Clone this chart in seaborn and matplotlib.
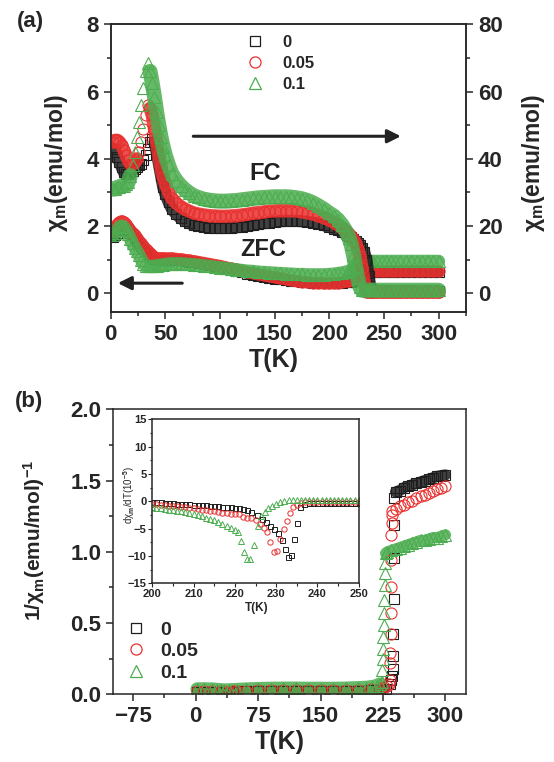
import matplotlib
matplotlib.use("Agg")
import matplotlib.pyplot as plt
from matplotlib.lines import Line2D
from matplotlib.ticker import MultipleLocator, FormatStrFormatter
import seaborn as sns

sns.set_style("ticks")
plt.rcParams["font.family"] = ["Liberation Sans", "DejaVu Sans"]
plt.rcParams["font.weight"] = "bold"
plt.rcParams["mathtext.fontset"] = "custom"
plt.rcParams["mathtext.rm"] = "Liberation Sans"
plt.rcParams["mathtext.bf"] = "Liberation Sans:bold"
plt.rcParams["mathtext.it"] = "Liberation Sans:italic"
plt.rcParams["axes.linewidth"] = 1.1

BLACK = "#1e1e1e"
RED = "#e8302e"
GREEN = "#4cad50"
labels = ["0", "0.05", "0.1"]

# ---- panel (a): chi vs T, ZFC on left axis, FC on right axis
T_a = [2, 4, 6, 8, 10, 12, 14, 16, 18, 20, 22, 24, 26, 28, 30, 32, 34, 36, 38, 40, 42, 44, 46, 48, 50,
       53, 56, 60, 64, 68, 72, 76, 80, 85, 90, 95, 100, 105, 110, 115, 120, 125, 130, 135, 140, 145, 150,
       155, 160, 165, 170, 175, 180, 185, 190, 195, 200, 204, 208, 212, 216, 218, 220, 222, 224, 226, 228,
       230, 232, 234, 236, 238, 240, 244, 248, 252, 256, 260, 265, 270, 275, 280, 285, 290, 295, 300]

fc_0 = [43, 42, 40.5, 39, 37.5, 36, 35.5, 35.5, 36, 36.5, 37, 37.5, 38, 38.5, 39.5, 41, 43, 45, 46, 45, 42, 38.5, 35, 31.5, 29.5,
        27, 25, 23.5, 22.3, 21.5, 20.8, 20.3, 20, 19.7, 19.5, 19.4, 19.4, 19.4, 19.5, 19.6, 19.8, 20, 20.2, 20.5, 20.8, 21, 21.2,
        21.4, 21.5, 21.5, 21.5, 21.4, 21.2, 21, 20.6, 20.2, 19.7, 19.2, 18.7, 18.1, 17.4, 17, 16.6, 16.1, 15.6, 15, 14.3,
        13.4, 12.2, 10, 5, 1.2, 0.7, 0.7, 0.7, 0.7, 0.7, 0.7, 0.7, 0.7, 0.7, 0.7, 0.7, 0.7, 0.7, 0.7]
fc_05 = [45, 45.5, 45.5, 45, 44, 42.5, 41, 39.5, 38.5, 38.5, 39, 40, 42, 45, 49, 53, 56, 55, 53, 49, 45, 41, 37.5, 34.5, 32.5,
         30, 28.2, 26.8, 25.8, 25, 24.4, 23.9, 23.6, 23.3, 23.1, 23, 22.9, 22.9, 23, 23.1, 23.3, 23.5, 23.8, 24, 24.2, 24.4, 24.5,
         24.6, 24.6, 24.6, 24.5, 24.3, 24, 23.6, 23.1, 22.5, 21.8, 21.1, 20.3, 19.4, 18.3, 17.6, 16.9, 16, 14.8, 13.2, 11,
         7.5, 3, 0.5, 0.3, 0.3, 0.3, 0.3, 0.3, 0.3, 0.3, 0.3, 0.3, 0.3, 0.3, 0.3, 0.3, 0.3, 0.3, 0.3]
fc_1 = [31, 31, 31.5, 31.5, 32, 32, 32.5, 33, 35, 38, 42, 46.5, 51, 56, 61, 66, 68.5, 66, 62.5, 58.5, 54, 50, 46.5, 43.5, 41,
        38, 35.5, 33.5, 32, 30.8, 29.8, 29, 28.5, 28, 27.7, 27.5, 27.4, 27.4, 27.5, 27.6, 27.8, 28, 28.2, 28.4, 28.5, 28.6, 28.7,
        28.7, 28.7, 28.6, 28.4, 28.1, 27.6, 26.9, 26, 25, 23.8, 23, 21.8, 20.2, 18, 16.5, 14.5, 11.5, 8, 4.5, 1.8,
        0.9, 0.9, 0.9, 0.9, 0.9, 0.9, 0.9, 0.9, 0.9, 0.9, 0.9, 0.9, 0.9, 0.9, 0.9, 0.9, 0.9, 0.9, 0.9]

zfc_0 = [1.68, 1.72, 1.8, 1.88, 1.93, 1.95, 1.92, 1.87, 1.8, 1.72, 1.64, 1.56, 1.48, 1.41, 1.34, 1.27, 1.2, 1.14, 1.08, 1.03, 1.0, 0.99, 0.99, 1.0, 1.0,
         1.0, 1.0, 0.99, 0.98, 0.96, 0.94, 0.92, 0.9, 0.87, 0.84, 0.8, 0.76, 0.72, 0.69, 0.65, 0.62, 0.58, 0.55, 0.52, 0.49, 0.46, 0.43,
         0.41, 0.39, 0.37, 0.35, 0.34, 0.32, 0.31, 0.3, 0.29, 0.29, 0.29, 0.3, 0.31, 0.32, 0.33, 0.34, 0.35, 0.36, 0.38, 0.4,
         0.43, 0.48, 0.55, 0.6, 0.62, 0.62, 0.62, 0.62, 0.62, 0.62, 0.62, 0.62, 0.62, 0.62, 0.62, 0.62, 0.62, 0.62, 0.62]
zfc_05 = [1.85, 1.95, 2.05, 2.12, 2.15, 2.12, 2.05, 1.97, 1.88, 1.8, 1.72, 1.64, 1.56, 1.48, 1.41, 1.33, 1.26, 1.19, 1.13, 1.08, 1.05, 1.04, 1.04, 1.04, 1.04,
          1.04, 1.04, 1.03, 1.02, 1.0, 0.98, 0.96, 0.94, 0.91, 0.88, 0.85, 0.82, 0.78, 0.74, 0.71, 0.67, 0.63, 0.6, 0.56, 0.53, 0.5, 0.47,
          0.44, 0.41, 0.38, 0.36, 0.34, 0.32, 0.31, 0.3, 0.29, 0.29, 0.3, 0.31, 0.33, 0.35, 0.37, 0.39, 0.41, 0.44, 0.48, 0.55,
          0.62, 0.65, 0.65, 0.65, 0.65, 0.65, 0.65, 0.65, 0.65, 0.65, 0.65, 0.65, 0.65, 0.65, 0.65, 0.65, 0.65, 0.65, 0.65]
zfc_1 = [1.72, 1.78, 1.88, 1.97, 2.0, 1.97, 1.88, 1.76, 1.62, 1.48, 1.36, 1.25, 1.14, 1.0, 0.88, 0.82, 0.8, 0.8, 0.8, 0.81, 0.82, 0.83, 0.84, 0.85, 0.86,
         0.87, 0.88, 0.88, 0.88, 0.87, 0.86, 0.85, 0.84, 0.82, 0.8, 0.78, 0.76, 0.74, 0.72, 0.7, 0.68, 0.66, 0.65, 0.63, 0.62, 0.61, 0.6,
         0.59, 0.58, 0.57, 0.56, 0.56, 0.55, 0.55, 0.55, 0.55, 0.56, 0.57, 0.59, 0.61, 0.64, 0.66, 0.69, 0.75, 0.85, 0.92, 0.94,
         0.95, 0.95, 0.95, 0.95, 0.95, 0.95, 0.95, 0.95, 0.95, 0.95, 0.95, 0.95, 0.95, 0.95, 0.95, 0.95, 0.95, 0.95, 0.95]

# ---- panel (b): 1/chi vs T
Tb_0 = [2, 10, 20, 30, 36, 40, 45, 50, 60, 75, 90, 105, 120, 135, 150, 165, 180, 195, 210, 220,
        228, 233, 235, 236, 236.5, 237, 237.3, 237.6, 238, 238.3, 238.7,
        240, 245, 250, 255, 260, 265, 270, 275, 280, 285, 290, 295, 300]
inv_0 = [0.018, 0.019, 0.019, 0.018, 0.016, 0.016, 0.018, 0.02, 0.022, 0.024, 0.025, 0.025, 0.025, 0.025, 0.024, 0.024, 0.024, 0.025, 0.027, 0.03,
         0.04, 0.07, 0.1, 0.13, 0.18, 0.27, 0.42, 0.67, 0.96, 1.19, 1.38,
         1.42, 1.43, 1.45, 1.46, 1.47, 1.48, 1.49, 1.50, 1.51, 1.52, 1.53, 1.535, 1.54]
Tb_05 = [2, 10, 20, 30, 36, 40, 45, 50, 60, 75, 90, 105, 120, 135, 150, 165, 180, 195, 210, 220,
         226, 230, 232, 233, 233.4, 233.7, 234, 234.3, 234.6, 234.8, 235, 235.2, 235.5, 236,
         240, 245, 250, 255, 260, 265, 270, 275, 280, 285, 290, 295, 300]
inv_05 = [0.02, 0.021, 0.022, 0.02, 0.018, 0.019, 0.021, 0.023, 0.026, 0.028, 0.029, 0.03, 0.03, 0.03, 0.029, 0.029, 0.029, 0.031, 0.034, 0.04,
          0.05, 0.06, 0.075, 0.1, 0.22, 0.29, 0.42, 0.57, 0.75, 0.94, 1.12, 1.2, 1.26, 1.29,
          1.3, 1.32, 1.33, 1.35, 1.36, 1.38, 1.39, 1.4, 1.41, 1.43, 1.44, 1.45, 1.46]
Tb_1 = [2, 10, 20, 26, 30, 34, 40, 50, 60, 75, 90, 105, 120, 135, 150, 165, 180, 195, 205, 212, 218, 221,
        223.5, 224, 224.4, 224.8, 225.2, 225.6, 226, 226.4, 226.8, 227.2, 227.6, 228, 230, 235,
        240, 245, 250, 255, 260, 265, 270, 275, 280, 285, 290, 295, 300]
inv_1 = [0.036, 0.036, 0.035, 0.032, 0.03, 0.028, 0.029, 0.032, 0.035, 0.038, 0.04, 0.041, 0.041, 0.04, 0.04, 0.04, 0.041, 0.044,
         0.047, 0.052, 0.06, 0.07,
         0.09, 0.17, 0.25, 0.32, 0.4, 0.49, 0.57, 0.66, 0.77, 0.85, 0.92, 0.99, 1.0, 1.01,
         1.02, 1.03, 1.04, 1.05, 1.06, 1.07, 1.08, 1.08, 1.09, 1.1, 1.1, 1.11, 1.12]

# ---- inset: d chi / dT (1e-5)
Ti_0 = [200, 201, 202, 203, 204, 205, 206, 207, 208, 209, 210, 211, 212, 213, 214, 215, 216, 217, 218, 219, 220, 221, 222, 223, 224,
        225.3, 226.5, 227.5, 228.5, 229.5, 230.5, 231.5, 232.2, 232.8, 233.5, 234.3, 235, 235.8, 236.7,
        238, 239, 240, 241, 242, 243, 244, 245, 246, 247, 248, 249, 250]
d_0 = [-0.1, -0.15, -0.2, -0.25, -0.3, -0.35, -0.4, -0.45, -0.5, -0.55, -0.6, -0.65, -0.7, -0.75, -0.8, -0.85, -0.9, -0.95, -1.0,
       -1.1, -1.2, -1.3, -1.4, -1.55, -1.9,
       -2.5, -3.2, -3.8, -4.5, -5.0, -5.8, -7.0, -8.7, -10.2, -9.8, -6.9, -4.0, -1.1, -0.4,
       -0.3, -0.3, -0.3, -0.3, -0.3, -0.3, -0.3, -0.3, -0.3, -0.3, -0.3, -0.3, -0.3]
Ti_05 = [200, 201, 202, 203, 204, 205, 206, 207, 208, 209, 210, 211, 212, 213, 214, 215, 216, 217, 218, 219, 220, 221, 222, 223, 224, 225,
         226, 227, 227.8, 228.5, 229.4, 230.2, 231, 231.8, 232.6, 233.4, 234.2, 235,
         236, 237, 238, 239, 240, 241, 242, 243, 244, 245, 246, 247, 248, 249, 250]
d_05 = [-0.5, -0.55, -0.6, -0.7, -0.8, -0.85, -0.9, -1.0, -1.1, -1.2, -1.3, -1.4, -1.5, -1.6, -1.7, -1.8, -1.9, -2.1, -2.2, -2.3,
        -2.3, -2.4, -2.8, -3.0, -3.1, -3.4,
        -4.2, -4.9, -5.7, -7.4, -9.2, -9.0, -6.9, -5.1, -3.6, -2.2, -1.1, -0.6,
        -0.3, -0.2, -0.15, -0.1, -0.1, -0.1, -0.1, -0.1, -0.1, -0.1, -0.1, -0.1, -0.1, -0.1, -0.1]
Ti_1 = [200, 201, 202, 203, 204, 205, 206, 207, 208, 209, 210, 211, 212, 213, 214, 215, 216, 217, 218, 219, 220,
        220.8, 221.5, 222.2, 222.9, 223.7, 224.6, 225.5, 226.4, 227.2,
        228, 229, 230, 231, 232, 233, 234, 235, 236, 237, 238, 239, 240, 241, 242, 243, 244, 245, 246, 247, 248, 249, 250]
d_1 = [-1.1, -1.2, -1.3, -1.4, -1.5, -1.6, -1.7, -1.85, -2.0, -2.15, -2.3, -2.5, -2.7, -3.0, -3.2, -3.5, -3.8, -4.2, -4.6, -4.9, -5.2,
       -5.6, -7.3, -9.3, -10.6, -10.6, -7.9, -4.5, -2.6, -1.9,
       -1.3, -0.9, -0.5, -0.2, 0.0, 0.2, 0.3, 0.3, 0.3, 0.3, 0.3, 0.3, 0.3, 0.3, 0.3, 0.3, 0.3, 0.3, 0.3, 0.3, 0.3, 0.3, 0.3]

colors = [BLACK, RED, GREEN]
markers = ["s", "o", "^"]


def band(ax, x, y, color, width):
    # dense measurement points merge into a filled band
    sns.lineplot(x=x, y=y, ax=ax, color=color, linewidth=width, alpha=0.85,
                 estimator=None, sort=False, legend=False, solid_capstyle="round")


def dots(ax, x, y, color, marker, size, lw=0.8):
    sns.lineplot(x=x, y=y, ax=ax, color=color, marker=marker, linestyle="",
                 markersize=size, markerfacecolor="none", markeredgecolor=color,
                 markeredgewidth=lw, estimator=None, sort=False, legend=False)


def legend_handles(sizes):
    return [Line2D([], [], ls="none", marker=m, ms=s, mfc="none", mec=c, mew=0.9)
            for m, s, c in zip(markers, sizes, colors)]


fig = plt.figure(figsize=(5.54, 7.62), dpi=100)

# ================= panel (a)
ax = fig.add_axes([0.1998, 0.5909, 0.6413, 0.3772])
ax2 = ax.twinx()
sizes_a = [7.2, 8, 9]
for y, c, m, s in zip([zfc_0, zfc_05, zfc_1], colors, markers, sizes_a):
    band(ax, T_a, y, c, s * 1.05)
    dots(ax, T_a, y, c, m, s)
# around the low-T peak the FC points stand apart, so the band skips it
gaps = [(12, 19), (11, 17), (8, 17)]
for y, c, m, s, (g0, g1) in zip([fc_0, fc_05, fc_1], colors, markers, sizes_a, gaps):
    band(ax2, T_a[:g0 + 1], y[:g0 + 1], c, s * 1.2)
    band(ax2, T_a[g1:], y[g1:], c, s * 1.2)
    dots(ax2, T_a, y, c, m, s)

ax.set_xlim(0, 325)
ax.set_ylim(-0.55, 8)
ax2.set_ylim(-5.5, 80)
ax.xaxis.set_major_locator(MultipleLocator(50))
ax.xaxis.set_minor_locator(MultipleLocator(25))
ax.yaxis.set_major_locator(MultipleLocator(2))
ax.yaxis.set_minor_locator(MultipleLocator(1))
ax2.yaxis.set_major_locator(MultipleLocator(20))
ax2.yaxis.set_minor_locator(MultipleLocator(10))
ax.tick_params(which="both", direction="out", right=False, top=False, labelsize=16, width=1.1)
ax.tick_params(which="major", length=5)
ax.tick_params(which="minor", length=3)
ax2.tick_params(which="both", direction="out", labelsize=16, width=1.1)
ax2.tick_params(which="major", length=5)
ax2.tick_params(which="minor", length=3)
for t in ax.get_xticklabels() + ax.get_yticklabels() + ax2.get_yticklabels():
    t.set_fontweight("bold")

ax.set_xlabel("T(K)", fontsize=18, fontweight="bold")
ax.xaxis.set_label_coords(0.46, -0.125)
ax.set_ylabel("χ$_\\mathrm{m}$(emu/mol)", fontsize=16.5, fontweight="bold")
ax.yaxis.set_label_coords(-0.115, 0.52)
ax2.set_ylabel("χ$_\\mathrm{m}$(emu/mol)", fontsize=16.5, fontweight="bold")
ax2.yaxis.set_label_coords(1.152, 0.52)

ax2.annotate("", xy=(268, 46.7), xytext=(73, 46.7),
             arrowprops=dict(arrowstyle="-|>", color="#222222", lw=2.2, mutation_scale=20))
ax2.annotate("", xy=(4, 3.0), xytext=(68, 3.0),
             arrowprops=dict(arrowstyle="-|>", color="#222222", lw=2.2, mutation_scale=20))
ax2.text(141, 35.7, "FC", fontsize=17, fontweight="bold", ha="center", va="center", color="#222222")
ax2.text(139.5, 13.1, "ZFC", fontsize=17, fontweight="bold", ha="center", va="center", color="#222222")

ax2.legend(legend_handles([7.2, 8, 9]), labels, loc="upper left", bbox_to_anchor=(0.384, 0.963),
           frameon=False, handlelength=1.0, handletextpad=1.1, labelspacing=0.35,
           borderpad=0, borderaxespad=0, prop={"weight": "bold", "size": 12})

fig.text(30 / 554, 1 - 21 / 762, "(a)", fontsize=16, fontweight="bold", ha="center", va="center")

# ================= panel (b)
bx = fig.add_axes([0.2045, 0.0888, 0.6372, 0.374])
sizes_b = [7.2, 8, 8.5]
# low-T plateau and high-T plateau of each series are dense enough to merge into bands
band(bx, Tb_0[:21], inv_0[:21], BLACK, 7)
band(bx, Tb_0[31:], inv_0[31:], BLACK, 8)
band(bx, Tb_05[:21], inv_05[:21], RED, 7)
band(bx, Tb_1[:22], inv_1[:22], GREEN, 10)
band(bx, Tb_1[33:], inv_1[33:], GREEN, 8)
for x, y, c, m, s in zip([Tb_0, Tb_05, Tb_1], [inv_0, inv_05, inv_1], colors, markers, sizes_b):
    dots(bx, x, y, c, m, s)
bx.set_xlim(-99, 325)
bx.set_ylim(0, 2.0)
bx.set_xticks([-75, 0, 75, 150, 225, 300])
bx.xaxis.set_minor_locator(MultipleLocator(37.5))
bx.yaxis.set_major_locator(MultipleLocator(0.5))
bx.yaxis.set_minor_locator(MultipleLocator(0.25))
bx.yaxis.set_major_formatter(FormatStrFormatter("%.1f"))
bx.tick_params(which="both", direction="out", right=False, top=False, labelsize=16, width=1.1)
bx.tick_params(which="major", length=5)
bx.tick_params(which="minor", length=3)
for t in bx.get_xticklabels() + bx.get_yticklabels():
    t.set_fontweight("bold")
bx.set_xlabel("T(K)", fontsize=18, fontweight="bold")
bx.xaxis.set_label_coords(0.472, -0.125)
bx.set_ylabel("1/χ$_\\mathrm{m}$(emu/mol)$^{\\mathbf{-1}}$", fontsize=15, fontweight="bold")
bx.yaxis.set_label_coords(-0.188, 0.541)
bx.legend(legend_handles([7.2, 8, 8.5]), labels, loc="upper left", bbox_to_anchor=(0.037, 0.257),
          frameon=False, handlelength=1.0, handletextpad=0.75, labelspacing=0.2,
          borderpad=0, borderaxespad=0, prop={"weight": "bold", "size": 14})
fig.text(29 / 554, 1 - 402 / 762, "(b)", fontsize=16, fontweight="bold", ha="center", va="center")

# ================= inset
ix = fig.add_axes([0.2749, 0.2345, 0.3726, 0.2152])
ix.set_facecolor("white")
for x, y, c, m, s in zip([Ti_0, Ti_05, Ti_1], [d_0, d_05, d_1], colors, markers, [3.6, 3.8, 4.2]):
    dots(ix, x, y, c, m, s, lw=0.7)
ix.set_xlim(200, 250)
ix.set_ylim(-15, 15)
ix.xaxis.set_major_locator(MultipleLocator(10))
ix.xaxis.set_minor_locator(MultipleLocator(5))
ix.yaxis.set_major_locator(MultipleLocator(5))
ix.yaxis.set_minor_locator(MultipleLocator(2.5))
ix.tick_params(which="both", direction="out", right=False, top=False, labelsize=8, width=0.8, pad=1.2)
ix.tick_params(which="major", length=3)
ix.tick_params(which="minor", length=1.8)
for t in ix.get_xticklabels() + ix.get_yticklabels():
    t.set_fontweight("bold")
ix.set_xlabel("T(K)", fontsize=8.5, fontweight="bold")
ix.xaxis.set_label_coords(0.506, -0.112)
ix.set_ylabel("dχ$_\\mathrm{m}$/dT(10$^{-5}$)", fontsize=7)
ix.yaxis.set_label_coords(-0.075, 0.54)

fig.savefig("out.png", dpi=100)
